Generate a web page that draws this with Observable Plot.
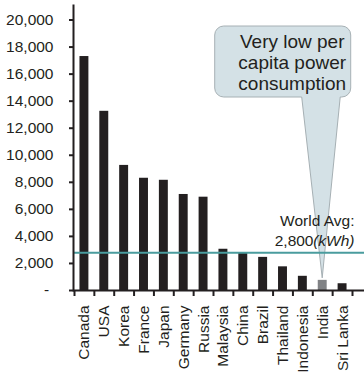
<!DOCTYPE html>
<html>
<head>
<meta charset="utf-8">
<script src="https://cdn.jsdelivr.net/npm/d3@7"></script>
<script src="https://cdn.jsdelivr.net/npm/@observablehq/plot@0.6"></script>
<style>
  html, body { margin: 0; padding: 0; background: #fff; }
  #chart { width: 364px; height: 373px; }
</style>
</head>
<body>
<div id="chart"></div>
<script>
// Per-capita electricity consumption (kWh) by country
const countries = ["Canada", "USA", "Korea", "France", "Japan", "Germany", "Russia",
  "Malaysia", "China", "Brazil", "Thailand", "Indonesia", "India", "Sri Lanka"];
const consumption = [17300, 13250, 9250, 8300, 8150, 7100, 6900,
  3050, 2750, 2450, 1750, 1050, 750, 500];
const highlighted = "India";
const worldAverage = 2800;
const yTicks = [0, 2000, 4000, 6000, 8000, 10000, 12000, 14000, 16000, 18000, 20000];
const calloutLines = ["Very low per", "capita power", "consumption"];

const rows = countries.map((country, i) => ({country, kwh: consumption[i]}));
const highlightValue = consumption[countries.indexOf(highlighted)];

const ink = "#231f20";
const teal = "#4a9c9e";
const font = "'Liberation Sans', Arial, Helvetica, sans-serif";

const xRange = [74, 352];
const step = (xRange[1] - xRange[0]) / countries.length;
const thousands = d3.format(",");

// Speech bubble whose tail points at the highlighted bar
function drawCallout(index, scales, values, dimensions) {
  const xs = scales.x, ys = scales.y;
  const cx = xs(highlighted) + xs.bandwidth() / 2;
  const tipY = ys(highlightValue) - 2;
  const top = dimensions.marginTop + 20, bottom = top + 71;
  const left = cx - 107.5, right = cx + 28.5, r = 9;
  const tailL = cx - 20.5, tailR = cx + 18;
  const p = d3.path();
  p.moveTo(left + r, top);
  p.lineTo(right - r, top);
  p.arcTo(right, top, right, top + r, r);
  p.lineTo(right, bottom - r);
  p.arcTo(right, bottom, right - r, bottom, r);
  p.lineTo(tailR, bottom);
  p.lineTo(cx, tipY);
  p.lineTo(tailL, bottom);
  p.lineTo(left + r, bottom);
  p.arcTo(left, bottom, left, bottom - r, r);
  p.lineTo(left, top + r);
  p.arcTo(left, top, left + r, top, r);
  p.closePath();
  const g = d3.create("svg:g");
  g.append("path")
    .attr("d", p.toString())
    .attr("fill", "#d4e1e6")
    .attr("stroke", "#a6b0b4")
    .attr("stroke-width", 1);
  return g.node();
}

const chart = Plot.plot({
  width: 364,
  height: 373,
  marginLeft: 73,
  marginRight: 0,
  marginTop: 6,
  marginBottom: 83,
  style: {fontFamily: font, color: ink, background: "#fff"},
  x: {type: "band", domain: countries, range: xRange, round: false,
      paddingInner: 0.55, paddingOuter: 0.275, label: null},
  y: {domain: [0, 21000], label: null},
  marks: [
    Plot.barY(rows.filter(d => d.country !== highlighted), {x: "country", y: "kwh", fill: ink}),
    Plot.barY(rows.filter(d => d.country === highlighted), {x: "country", y: "kwh", fill: "#808285"}),
    Plot.dot([highlighted], {x: d => d, y: () => highlightValue, render: drawCallout}),
    Plot.ruleY([worldAverage], {stroke: teal, strokeWidth: 2}),
    // axis lines and category boundary ticks
    Plot.frame({anchor: "left", stroke: ink, strokeWidth: 2, insetTop: -1}),
    Plot.ruleY([0], {stroke: ink, strokeWidth: 2}),
    Plot.ruleX(countries, {x: d => d, y1: 0, y2: 0, insetBottom: -6, dx: -step / 2, stroke: ink, strokeWidth: 2}),
    Plot.ruleX(countries.slice(-1), {x: d => d, y1: 0, y2: 0, insetBottom: -6, dx: step / 2, stroke: ink, strokeWidth: 2}),
    Plot.axisY({
      ticks: yTicks,
      tickFormat: d => d === 0 ? "-\u00a0" : thousands(d),
      tickSize: 4,
      tickPadding: 16,
      strokeWidth: 2,
      fontSize: 15.5,
      fill: ink,
      label: null
    }),
    Plot.axisX({
      tickRotate: -90,
      tickSize: 0,
      tickPadding: 15,
      fontSize: 15.5,
      fill: ink,
      label: null
    }),
    // world average annotation
    Plot.text([worldAverage], {y: d => d, text: () => "World Avg:", frameAnchor: "right",
      textAnchor: "end", lineAnchor: "bottom", dx: -10, dy: -27, fontSize: 15.5, fill: ink}),
    Plot.text([worldAverage], {y: d => d, text: d => thousands(d), frameAnchor: "right",
      textAnchor: "end", lineAnchor: "bottom", dx: -51, dy: -7, fontSize: 15.5, fill: ink}),
    Plot.text([worldAverage], {y: d => d, text: () => "(kWh)", frameAnchor: "right",
      textAnchor: "end", lineAnchor: "bottom", dx: -10, dy: -7, fontSize: 15.5, fontStyle: "italic", fill: ink}),
    // callout text
    Plot.text([calloutLines.join("\n")], {x: () => highlighted, frameAnchor: "top",
      textAnchor: "middle", lineAnchor: "top", lineHeight: 1.1, dx: -30.5, dy: 27, fontSize: 19, fill: ink})
  ]
});

document.getElementById("chart").appendChild(chart);
</script>
</body>
</html>
